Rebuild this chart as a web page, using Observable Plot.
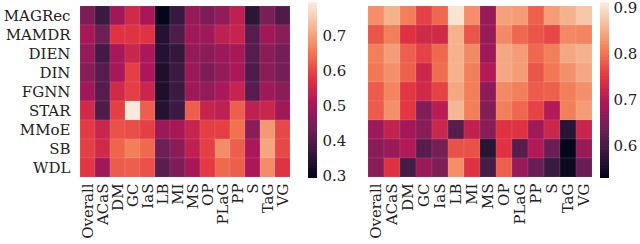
<!DOCTYPE html>
<html>
<head>
<meta charset="utf-8">
<script src="https://cdn.jsdelivr.net/npm/d3@7"></script>
<script src="https://cdn.jsdelivr.net/npm/@observablehq/plot@0.6"></script>
<style>
  html, body { margin: 0; padding: 0; background: #fff; }
  #wrap { position: relative; width: 640px; height: 244px; overflow: hidden; }
  #wrap > div { position: absolute; top: 0; }
  svg { overflow: visible; }
</style>
</head>
<body>
<div id="wrap">
  <div id="hmL" style="left:0px"></div>
  <div id="cbL" style="left:300px"></div>
  <div id="hmR" style="left:362px"></div>
  <div id="cbR" style="left:594px"></div>
</div>
<script>
const models = ["MAGRec", "MAMDR", "DIEN", "DIN", "FGNN", "STAR", "MMoE", "SB", "WDL"];
const metrics = ["Overall", "ACaS", "DM", "GC", "IaS", "LB", "MI", "MS", "OP", "PLaG", "PP", "S", "TaG", "VG"];

// left heatmap values, one row per model
const leftValues = [
  [0.45, 0.37, 0.49, 0.555, 0.50, 0.295, 0.365, 0.48, 0.45, 0.475, 0.53, 0.35, 0.445, 0.395],
  [0.50, 0.43, 0.575, 0.575, 0.575, 0.34, 0.395, 0.49, 0.49, 0.53, 0.54, 0.405, 0.49, 0.465],
  [0.475, 0.38, 0.50, 0.545, 0.505, 0.34, 0.36, 0.475, 0.465, 0.485, 0.50, 0.405, 0.465, 0.435],
  [0.465, 0.405, 0.50, 0.59, 0.505, 0.33, 0.37, 0.485, 0.45, 0.475, 0.505, 0.395, 0.465, 0.435],
  [0.49, 0.405, 0.555, 0.59, 0.545, 0.33, 0.37, 0.49, 0.475, 0.505, 0.54, 0.405, 0.49, 0.465],
  [0.555, 0.395, 0.59, 0.79, 0.625, 0.34, 0.37, 0.625, 0.54, 0.53, 0.625, 0.53, 0.545, 0.49],
  [0.585, 0.545, 0.61, 0.605, 0.59, 0.485, 0.50, 0.54, 0.59, 0.59, 0.645, 0.465, 0.69, 0.60],
  [0.59, 0.555, 0.63, 0.66, 0.635, 0.43, 0.465, 0.53, 0.59, 0.675, 0.625, 0.505, 0.705, 0.60],
  [0.58, 0.49, 0.62, 0.625, 0.61, 0.41, 0.45, 0.50, 0.585, 0.635, 0.625, 0.505, 0.675, 0.575]
];

// right heatmap values, one row per model
const rightValues = [
  [0.822, 0.855, 0.81, 0.758, 0.79, 0.905, 0.822, 0.675, 0.84, 0.835, 0.785, 0.835, 0.855, 0.875],
  [0.775, 0.81, 0.745, 0.73, 0.73, 0.855, 0.775, 0.675, 0.82, 0.79, 0.775, 0.765, 0.82, 0.815],
  [0.81, 0.835, 0.785, 0.76, 0.79, 0.855, 0.82, 0.68, 0.845, 0.835, 0.79, 0.81, 0.845, 0.855],
  [0.805, 0.825, 0.785, 0.725, 0.795, 0.855, 0.81, 0.70, 0.845, 0.835, 0.775, 0.805, 0.825, 0.845],
  [0.78, 0.815, 0.75, 0.73, 0.76, 0.845, 0.81, 0.665, 0.82, 0.81, 0.78, 0.785, 0.81, 0.825],
  [0.78, 0.825, 0.75, 0.655, 0.705, 0.86, 0.81, 0.655, 0.81, 0.79, 0.76, 0.70, 0.81, 0.835],
  [0.68, 0.715, 0.685, 0.662, 0.724, 0.618, 0.713, 0.662, 0.746, 0.746, 0.682, 0.724, 0.57, 0.72],
  [0.662, 0.675, 0.697, 0.618, 0.645, 0.773, 0.773, 0.57, 0.746, 0.618, 0.697, 0.634, 0.532, 0.675],
  [0.662, 0.746, 0.60, 0.675, 0.652, 0.822, 0.746, 0.60, 0.784, 0.675, 0.634, 0.59, 0.54, 0.634]
];

const leftDomain = [0.292, 0.792];
const rightDomain = [0.530, 0.911];
const leftTicks = [0.3, 0.4, 0.5, 0.6, 0.7];
const rightTicks = [0.6, 0.7, 0.8, 0.9];

// seaborn "rocket" colormap stops
const rocketStops = ["#03051a", "#35193e", "#701f57", "#ad1759", "#e13342", "#f37651", "#f6b48f", "#faebdd"];
const rocket = d3.piecewise(d3.interpolateRgb, rocketStops);

const font = {fontFamily: "'DejaVu Serif', serif", fontSize: "15px", background: "transparent", color: "#222"};

function toTable(values) {
  const out = [];
  models.forEach((m, i) => metrics.forEach((k, j) => out.push({model: m, metric: k, value: values[i][j]})));
  return out;
}

function heatmap(values, domain, showY, opts) {
  return Plot.plot({
    width: opts.width, height: 244,
    marginLeft: opts.marginLeft, marginRight: opts.marginRight, marginTop: 3, marginBottom: 65,
    style: font,
    x: {domain: metrics, padding: 0, label: null, axis: null},
    y: {domain: models, padding: 0, label: null, axis: null},
    color: {type: "linear", domain, interpolate: rocket, clamp: true},
    marks: [
      Plot.cell(toTable(values), {x: "metric", y: "model", fill: "value", stroke: "#fff", strokeWidth: 0.5, strokeOpacity: 0.18}),
      Plot.axisX({tickRotate: -90, tickSize: 0, tickPadding: 4, label: null}),
      showY ? Plot.axisY({tickSize: 0, tickPadding: 5, label: null}) : null
    ]
  });
}

function colorbar(domain, ticks, opts) {
  const n = 120;
  const steps = d3.range(n).map(i => [domain[0] + (domain[1] - domain[0]) * i / n, domain[0] + (domain[1] - domain[0]) * (i + 1) / n]);
  return Plot.plot({
    width: opts.width, height: 244,
    marginLeft: opts.marginLeft, marginRight: opts.width - opts.marginLeft - 9, marginTop: 3, marginBottom: 66,
    style: font,
    x: {domain: [0, 1], axis: null},
    y: {domain, label: null, axis: null},
    color: {type: "linear", domain, interpolate: rocket},
    marks: [
      Plot.rect(steps, {x1: 0, x2: 1, y1: d => d[0], y2: d => d[1] + (domain[1] - domain[0]) / n * 0.5, fill: d => (d[0] + d[1]) / 2}),
      Plot.axisY({anchor: "right", ticks, tickSize: 0, tickPadding: opts.pad, label: null, tickFormat: d3.format(".1f")})
    ]
  });
}

document.getElementById("hmL").append(heatmap(leftValues, leftDomain, true, {width: 300, marginLeft: 75, marginRight: 5}));
document.getElementById("cbL").append(colorbar(leftDomain, leftTicks, {width: 60, marginLeft: 8, pad: 5}));
document.getElementById("hmR").append(heatmap(rightValues, rightDomain, false, {width: 232, marginLeft: 5, marginRight: 2}));
document.getElementById("cbR").append(colorbar(rightDomain, rightTicks, {width: 45, marginLeft: 6, pad: 4}));
</script>
</body>
</html>
